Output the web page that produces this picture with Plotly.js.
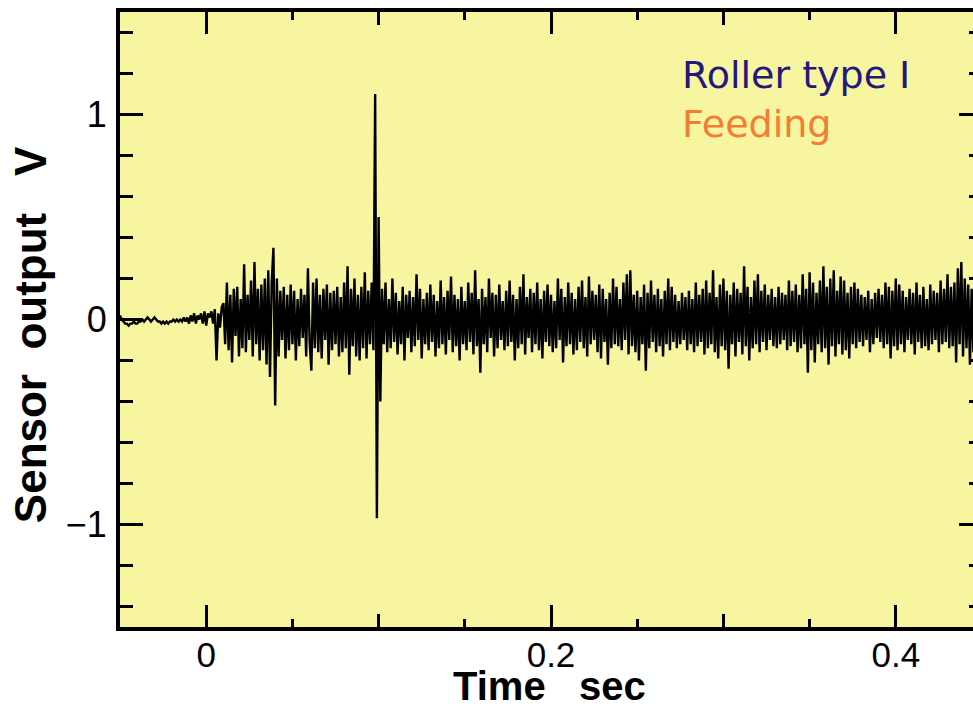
<!DOCTYPE html>
<html>
<head>
<meta charset="utf-8">
<script src="https://cdn.plot.ly/plotly-3.0.1.min.js"></script>
<style>
html,body{margin:0;padding:0;overflow:hidden;background:#fff;}
#chart{width:990px;height:713px;}
</style>
</head>
<body>
<div id="chart"></div>
<script>
// Sampling
const tStart = -0.050;
const sampleInterval = 0.001;

// Quiet pre-trigger segment (t = -0.050 .. 0.009)
const quietValues = [
  0.02, 0.00, -0.01, -0.02, -0.02, -0.03, -0.02, -0.02, -0.01, -0.02,
  -0.02, -0.01, -0.01, 0.00, -0.01, 0.00, 0.01, 0.00, -0.01, 0.00,
  0.01, 0.00, -0.01, -0.01, -0.02, -0.01, -0.02, -0.01, -0.02, -0.01,
  -0.01, 0.00, -0.01, 0.00, -0.01, 0.00, -0.01, 0.01, -0.01, 0.01,
  -0.02, 0.02, -0.01, 0.03, -0.02, 0.02, 0.00, 0.03, -0.02, 0.04,
  -0.03, 0.03, 0.01, 0.04, -0.02, 0.05, -0.20, 0.03, -0.04, 0.06
];

// Feeding burst (t = 0.010 .. 0.099)
const burstValues = [
  0.08, -0.12, 0.18, -0.15, 0.12, -0.21, 0.15, -0.08, 0.16, -0.18,
  0.10, -0.14, 0.27, -0.16, 0.12, -0.10, 0.19, -0.18, 0.28, -0.12,
  0.15, -0.20, 0.17, -0.15, 0.20, -0.22, 0.24, -0.28, 0.18, 0.35,
  -0.42, 0.20, -0.18, 0.14, -0.10, 0.16, -0.19, 0.12, -0.15, 0.17,
  -0.12, 0.14, -0.20, 0.10, -0.13, 0.15, -0.09, 0.12, -0.18, 0.25,
  -0.11, -0.25, 0.18, -0.14, 0.20, -0.16, 0.12, -0.19, 0.15, -0.10,
  0.17, -0.22, 0.13, -0.15, 0.14, -0.12, 0.16, -0.18, 0.11, -0.16,
  0.18, -0.14, 0.26, -0.27, 0.15, -0.13, 0.20, -0.18, 0.12, -0.20,
  0.16, -0.14, 0.23, -0.19, 0.14, -0.12, 0.18, -0.15, 1.10, -0.97
];

// Steady running segment (t = 0.100 .. 0.445)
const runValues = [
  0.50, -0.40, 0.15, -0.12, 0.18, -0.16, 0.10, -0.14, 0.20, -0.11,
  0.13, -0.17, 0.09, -0.12, 0.16, -0.20, 0.12, -0.09, 0.14, -0.16,
  0.11, -0.13, 0.22, -0.10, 0.15, -0.19, 0.10, -0.12, 0.13, -0.15,
  0.17, -0.11, 0.12, -0.18, 0.09, -0.14, 0.19, -0.12, 0.11, -0.17,
  0.14, -0.10, 0.21, -0.16, 0.12, -0.13, 0.10, -0.20, 0.16, -0.12,
  0.09, -0.15, 0.18, -0.11, 0.13, -0.17, 0.24, -0.13, 0.10, -0.26,
  0.15, -0.12, 0.11, -0.16, 0.20, -0.09, 0.13, -0.18, 0.12, -0.14,
  0.17, -0.10, 0.09, -0.15, 0.14, -0.13, 0.19, -0.11, 0.12, -0.20,
  0.10, -0.14, 0.16, -0.12, 0.22, -0.17, 0.11, -0.09, 0.15, -0.16,
  0.13, -0.12, 0.18, -0.15, 0.10, -0.19, 0.14, -0.11, 0.17, -0.13,
  0.12, -0.16, 0.09, -0.14, 0.20, -0.10, 0.15, -0.21, 0.11, -0.13,
  0.18, -0.12, 0.13, -0.17, 0.10, -0.15, 0.16, -0.11, 0.19, -0.14,
  0.11, -0.18, 0.21, -0.12, 0.14, -0.10, 0.12, -0.16, 0.17, -0.19,
  0.15, -0.11, 0.10, -0.22, 0.13, -0.14, 0.20, -0.12, 0.16, -0.13,
  0.10, -0.15, 0.18, -0.10, 0.22, -0.17, 0.24, -0.13, 0.12, -0.16,
  0.14, -0.20, 0.11, -0.12, 0.17, -0.25, 0.13, -0.14, 0.19, -0.11,
  0.12, -0.16, 0.15, -0.13, 0.10, -0.18, 0.14, -0.12, 0.20, -0.15,
  0.16, -0.11, 0.12, -0.14, 0.09, -0.12, 0.13, -0.10, 0.11, -0.15,
  0.14, -0.12, 0.10, -0.16, 0.18, -0.13, 0.12, -0.11, 0.15, -0.17,
  0.19, -0.14, 0.13, -0.12, 0.24, -0.16, 0.11, -0.19, 0.17, -0.13,
  0.20, -0.15, 0.14, -0.24, 0.12, -0.12, 0.18, -0.18, 0.15, -0.11,
  0.13, -0.17, 0.26, -0.13, 0.16, -0.20, 0.11, -0.14, 0.19, -0.12,
  0.22, -0.16, 0.14, -0.11, 0.17, -0.15, 0.12, -0.10, 0.15, -0.13,
  0.11, -0.14, 0.16, -0.12, 0.13, -0.10, 0.12, -0.15, 0.19, -0.13,
  0.14, -0.11, 0.17, -0.16, 0.12, -0.14, 0.22, -0.12, 0.15, -0.26,
  0.23, -0.15, 0.18, -0.21, 0.13, -0.12, 0.19, -0.16, 0.26, -0.14,
  0.16, -0.22, 0.20, -0.13, 0.24, -0.18, 0.14, -0.12, 0.21, -0.17,
  0.19, -0.15, 0.13, -0.19, 0.16, -0.12, 0.18, -0.14, 0.15, -0.11,
  0.12, -0.13, 0.11, -0.10, 0.14, -0.16, 0.10, -0.12, 0.13, -0.09,
  0.15, -0.11, 0.12, -0.14, 0.18, -0.12, 0.16, -0.19, 0.14, -0.13,
  0.20, -0.15, 0.17, -0.12, 0.14, -0.16, 0.11, -0.10, 0.15, -0.12,
  0.13, -0.17, 0.18, -0.11, 0.12, -0.14, 0.16, -0.13, 0.10, -0.15,
  0.17, -0.12, 0.14, -0.10, 0.13, -0.16, 0.19, -0.12, 0.15, -0.11,
  0.22, -0.14, 0.16, -0.13, 0.18, -0.21, 0.25, -0.12, 0.28, -0.18,
  0.20, -0.14, 0.17, -0.22, 0.15, -0.16
];

const legendLines = ["Roller type I", "Feeding"];
const xTickLabels = ["0", "0.2", "0.4"];
const yTickLabels = ["\u22121", "0", "1"];
const xTitle = "Time\u00a0\u00a0\u00a0sec";
const yTitle = "Sensor\u00a0\u00a0output\u00a0\u00a0\u00a0V";

const sensorValues = quietValues.concat(burstValues, runValues);
const timeValues = sensorValues.map((v, i) => +(tStart + i * sampleInterval).toFixed(4));

const FONT = '"Liberation Sans", Arial, Helvetica, sans-serif';
const WIDE = '"DejaVu Sans", "Liberation Sans", Arial, sans-serif';
const xRange = [-0.05, 0.45];
const yRange = [-1.5, 1.5];

const traces = [
  {
    x: timeValues, y: sensorValues, type: 'scatter', mode: 'lines',
    line: {color: '#000000', width: 2.4}, hoverinfo: 'skip', showlegend: false
  },
  {
    x: [], y: [], xaxis: 'x2', yaxis: 'y', type: 'scatter', mode: 'lines', showlegend: false
  }
];

const layout = {
  width: 990, height: 713,
  margin: {l: 120, r: 8, t: 12, b: 86},
  paper_bgcolor: '#ffffff',
  plot_bgcolor: '#f7f5a0',
  showlegend: false,
  font: {family: FONT, color: '#000000'},
  xaxis: {
    range: xRange, tickmode: 'array', tickvals: [0, 0.2, 0.4], ticktext: xTickLabels,
    ticks: 'inside', ticklen: 22, tickwidth: 3, tickcolor: '#000',
    minor: {dtick: 0.1, tick0: 0, ticks: 'inside', ticklen: 13, tickwidth: 3, tickcolor: '#000', showgrid: false},
    showline: true, linewidth: 4, linecolor: '#000', mirror: 'ticks',
    showgrid: false, zeroline: false, ticklabelstandoff: -6,
    tickfont: {size: 35, family: FONT}
  },
  xaxis2: {
    overlaying: 'x', anchor: 'y', range: xRange, dtick: 0.05, tick0: 0,
    ticks: 'inside', ticklen: 8, tickwidth: 3, tickcolor: '#000',
    showticklabels: false, showline: false, mirror: 'ticks', showgrid: false, zeroline: false
  },
  yaxis: {
    range: yRange, tickmode: 'array', tickvals: [-1, 0, 1], ticktext: yTickLabels,
    ticks: 'inside', ticklen: 23, tickwidth: 3, tickcolor: '#000',
    minor: {dtick: 0.2, tick0: 0, ticks: 'inside', ticklen: 13, tickwidth: 3, tickcolor: '#000', showgrid: false},
    showline: true, linewidth: 4, linecolor: '#000', mirror: 'ticks',
    showgrid: false, zeroline: false, ticklabelstandoff: 2,
    tickfont: {size: 36, family: FONT}
  },
  annotations: [
    {text: '<b>' + xTitle + '</b>', xref: 'paper', yref: 'paper', x: 0.4977, y: -0.0585,
     xanchor: 'center', yanchor: 'top', showarrow: false, borderpad: 0,
     font: {size: 40, family: FONT, color: '#000'}},
    {text: '<b>' + yTitle + '</b>', xref: 'paper', yref: 'paper', x: -0.1045, y: 0.476,
     xanchor: 'center', yanchor: 'middle', textangle: -90, showarrow: false,
     font: {size: 44, family: FONT, color: '#000'}},
    {text: legendLines[0], xref: 'paper', yref: 'paper', x: 0.6497, y: 0.898, xanchor: 'left', yanchor: 'middle',
     showarrow: false, font: {size: 38, family: WIDE, color: '#24197a'}},
    {text: legendLines[1], xref: 'paper', yref: 'paper', x: 0.6497, y: 0.818, xanchor: 'left', yanchor: 'middle',
     showarrow: false, font: {size: 38, family: WIDE, color: '#f47d35'}}
  ]
};

Plotly.newPlot('chart', traces, layout, {displayModeBar: false, staticPlot: true});
</script>
</body>
</html>
